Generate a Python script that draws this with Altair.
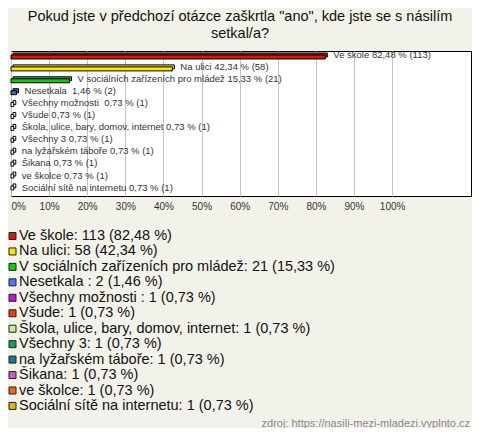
import altair as alt
import pandas as pd

names = ["Ve škole", "Na ulici", "V sociálních zařízeních pro mládež", "Nesetkala ",
         "Všechny možnosti ", "Všude", "Škola, ulice, bary, domov, internet", "Všechny 3",
         "na lyžařském táboře", "Šikana", "ve školce", "Sociální sítě na internetu"]
counts = [113, 58, 21, 2, 1, 1, 1, 1, 1, 1, 1, 1]
percents = [82.48, 42.34, 15.33, 1.46, 0.73, 0.73, 0.73, 0.73, 0.73, 0.73, 0.73, 0.73]
bar_colors = ["#c41e0c", "#ffe600", "#1cbe1c", "#3a62d8", "#ffffff", "#ffffff", "#ffffff",
              "#ffffff", "#ffffff", "#ffffff", "#ffffff", "#ffffff"]
legend_colors = ["#c8200a", "#ffe400", "#14c814", "#4a78f0", "#c814d8", "#e84010", "#c8f08c",
                 "#10a060", "#1e7a96", "#c060c0", "#e07010", "#e8b40c"]
title_lines = ['Pokud jste v předchozí otázce zaškrtla "ano", kde jste se s násilím', "setkal/a?"]
source = "zdroj: https://nasili-mezi-mladezi.vyplnto.cz"
tick_values = [0, 10, 20, 30, 40, 50, 60, 70, 80, 90, 100]


def cz(v):
    return f"{v:.2f}".replace(".", ",")


df = pd.DataFrame({
    "name": names,
    "count": counts,
    "pct": percents,
    "idx": list(range(len(names))),
    "barlabel": [f"{n}\u00a0{cz(p)} % ({c})" if n.endswith(" ") else f"{n} {cz(p)} % ({c})"
                 for n, c, p in zip(names, counts, percents)],
    "leglabel": [f"{n}: {c} ({cz(p)} %)" for n, c, p in zip(names, counts, percents)],
})
tdf = pd.DataFrame({"line": title_lines, "i": [0, 1]})
sdf = pd.DataFrame({"t": [source]})

FONT = "Liberation Sans"

yscale = alt.Scale(domain=names, paddingInner=0.5, paddingOuter=0.34, align=0.31)
xscale = alt.Scale(domain=[0, 120.7], nice=False, zero=True)
fillscale = alt.Scale(domain=names, range=bar_colors)

depth = alt.Chart(df).mark_bar(size=4, stroke="#000000", strokeWidth=1,
                               xOffset=2, yOffset=-1.5).encode(
    x=alt.X("pct:Q", scale=xscale,
            axis=alt.Axis(values=tick_values, labelExpr="datum.value + '%'", grid=True,
                          gridColor="#c4c4c4", gridWidth=1, domain=False, ticks=False,
                          labelFlush=True, labelPadding=5, labelFontSize=10,
                          labelColor="#333333", labelFont=FONT, title=None)),
    y=alt.Y("name:N", sort=names, scale=yscale, axis=None),
    fill=alt.Fill("name:N", scale=fillscale, legend=None),
)

bars = alt.Chart(df).mark_bar(size=4, stroke="#000000", strokeWidth=1, yOffset=0.5).encode(
    x=alt.X("pct:Q", scale=xscale),
    y=alt.Y("name:N", sort=names, scale=yscale, axis=None),
    fill=alt.Fill("name:N", scale=fillscale, legend=None),
)

labels = alt.Chart(df).mark_text(align="left", baseline="middle", dx=8, fontSize=9.5,
                                 font=FONT, color="#333333").encode(
    x=alt.X("pct:Q", scale=xscale),
    y=alt.Y("name:N", sort=names, scale=yscale, axis=None),
    text="barlabel:N",
)

legy = alt.Scale(domain=[0, 11], range=[185, 185 + 11 * 15.45])

leg_sq = alt.Chart(df).mark_square(size=49, stroke="#222222", strokeWidth=1,
                                   opacity=1, fillOpacity=1).encode(
    x=alt.value(1.5),
    y=alt.Y("idx:Q", scale=legy, axis=None),
    fill=alt.Fill("name:N", scale=alt.Scale(domain=names, range=legend_colors), legend=None),
)

leg_txt = alt.Chart(df).mark_text(align="left", baseline="middle", fontSize=14.5,
                                  font=FONT, color="#111111").encode(
    x=alt.value(8),
    y=alt.Y("idx:Q", scale=legy, axis=None),
    text="leglabel:N",
)

title = alt.Chart(tdf).mark_text(align="center", baseline="middle", fontSize=14.5,
                                 font=FONT, color="#111111").encode(
    x=alt.value(229),
    y=alt.Y("i:Q", scale=alt.Scale(domain=[0, 1], range=[-34, -17]), axis=None),
    text="line:N",
)

src = alt.Chart(sdf).mark_text(align="right", baseline="middle", fontSize=11,
                               font=FONT, color="#888888").encode(
    x=alt.value(459),
    y=alt.value(373),
    text="t:N",
)

chart = alt.layer(depth, bars, labels, leg_sq, leg_txt, title, src).resolve_scale(
    y="independent", fill="independent"
).properties(
    width=460, height=145,
    padding={"left": 3, "top": 43, "right": 1, "bottom": 232},
    autosize=alt.AutoSizeParams(type="none"),
    background="#f3f2ea",
).configure_view(fill="#ffffff", stroke="#000000", strokeWidth=1)

chart.save("out.html", embed_options={"renderer": "svg", "actions": False})
